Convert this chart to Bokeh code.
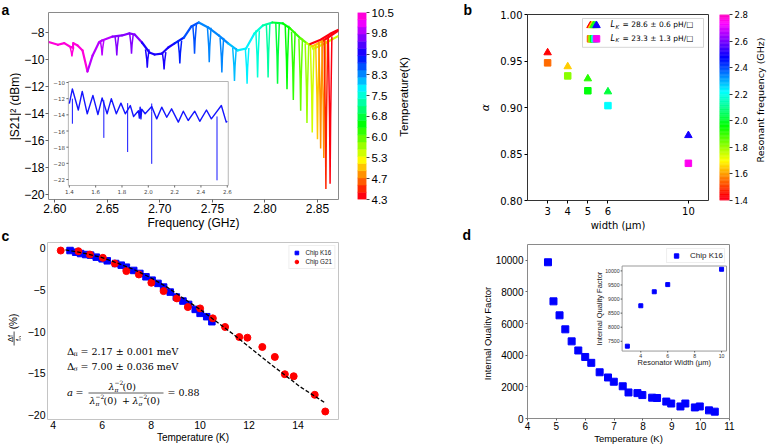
import numpy as np
from bokeh.plotting import figure
from bokeh.models import Range1d, FixedTicker, Label, Legend, LegendItem
from bokeh.layouts import row, column
from bokeh.embed import file_html
from bokeh.resources import INLINE
from bokeh.core.properties import value

SANS = "Liberation Sans"
DJV = "DejaVu Sans"
SERIF = "DejaVu Serif"
MINUS = "\u2212"

# ===================== DATA =====================
# (a) transmission spectrum: baseline points
a_base_f = [2.595, 2.603, 2.609, 2.6154, 2.6172, 2.6176, 2.6217, 2.6264, 2.6311, 2.636,
            2.642, 2.645, 2.655, 2.664, 2.671, 2.676, 2.683, 2.690, 2.695, 2.702,
            2.708, 2.714, 2.723, 2.730, 2.737, 2.746, 2.756, 2.765, 2.774, 2.782,
            2.790, 2.798, 2.807, 2.817, 2.824, 2.834, 2.840, 2.845, 2.856, 2.870]
a_base_v = [-8.72, -8.91, -8.79, -9.09, -9.12, -8.79, -8.96, -9.33, -10.89, -9.70,
            -8.74, -8.59, -8.30, -8.22, -8.07, -8.15, -8.74, -9.48, -9.63, -9.56,
            -9.11, -8.81, -8.37, -7.55, -7.26, -7.63, -8.22, -8.81, -9.33, -9.19,
            -8.07, -7.48, -7.26, -7.33, -7.70, -8.44, -8.81, -9.04, -8.59, -7.85]
# resonance dips: frequency, level at the dip's shoulders, minimum, temperature
a_dip_f = [2.6163, 2.645, 2.659, 2.673, 2.688, 2.704, 2.719, 2.733, 2.747, 2.759,
           2.771, 2.783, 2.793, 2.803, 2.812, 2.821, 2.827, 2.834, 2.840, 2.845,
           2.850, 2.853, 2.856, 2.858, 2.862]
a_dip_top = [-9.09, -8.59, -8.27, -8.10, -9.25, -9.45, -8.60, -7.45, -7.65, -8.40,
             -9.15, -9.15, -7.85, -7.35, -7.27, -7.50, -7.95, -8.44, -8.81, -9.04,
             -8.85, -8.70, -8.59, -8.50, -8.30]
a_dip_min = [-9.78, -9.70, -9.70, -9.57, -10.60, -10.74, -10.30, -9.57, -10.20, -10.96,
             -11.60, -11.80, -11.33, -11.33, -11.80, -12.20, -13.00, -13.80, -14.70, -15.40,
             -15.90, -16.60, -17.30, -19.60, -19.20]
a_dip_T = [10.4, 10.0, 9.7, 9.5, 9.2, 9.0, 8.9, 8.65, 8.45, 8.26,
           8.0, 7.74, 7.46, 7.15, 6.9, 6.64, 6.24, 6.0, 5.7, 5.37,
           5.1, 4.9, 4.76, 4.48, 4.37]
# overlapping low-temperature sweeps at the right edge
a_red_f = [2.842, 2.853, 2.862, 2.870]
a_red_v = [-8.89, -8.54, -8.10, -7.80]
a_red_T = 4.4
a_yel_f = [2.845, 2.856, 2.870]
a_yel_v = [-9.25, -8.85, -8.25]
a_yel_T = 5.4
a_xticks = [2.60, 2.65, 2.70, 2.75, 2.80, 2.85]
a_yticks = [-20, -18, -16, -14, -12, -10, -8]
a_cbar_T = [4.3, 4.7, 5.3, 6.0, 6.8, 7.5, 8.3, 9.0, 9.8, 10.5]
a_cbar_labels = ["4.3", "4.7", "5.3", "6.0", "6.8", "7.5", "8.3", "9.0", "9.8", "10.5"]

# (a) inset: wide-band spectrum
ia_f = [1.400, 1.423, 1.468, 1.498, 1.536, 1.579, 1.617, 1.649, 1.687, 1.719,
        1.757, 1.792, 1.825, 1.863, 1.888, 1.925, 1.932, 1.938, 1.944, 1.950,
        1.976, 2.026, 2.064, 2.102, 2.140, 2.177, 2.228, 2.266, 2.303, 2.353,
        2.391, 2.442, 2.479, 2.555, 2.592, 2.600]
ia_v = [-12.6, -10.8, -13.4, -11.1, -13.87, -11.6, -13.96, -11.9, -13.87, -12.0,
        -13.87, -12.55, -13.87, -12.85, -14.2, -13.5, -14.4, -13.05, -14.5, -13.3,
        -13.87, -12.97, -14.5, -13.05, -14.3, -13.26, -14.9, -13.55, -14.7, -13.55,
        -14.8, -13.4, -14.5, -12.85, -14.9, -14.8]
ia_spike_f = [1.423, 1.662, 1.843, 1.843, 2.026, 2.026, 2.522]
ia_spike_from = [-12.0, -12.2, -13.5, -13.5, -13.6, -13.6, -14.2]
ia_spike_to = [-15.1, -16.85, -18.6, -12.55, -20.06, -12.6, -22.1]
ia_xticks = [1.4, 1.6, 1.8, 2.0, 2.2, 2.4, 2.6]
ia_yticks = [-10, -12, -14, -16, -18, -20, -22]

# (b) alpha vs width
b_width = [3, 4, 5, 6, 10]
b_alpha_tri = [0.959, 0.944, 0.931, 0.917, 0.870]
b_alpha_sq = [0.948, 0.934, 0.918, 0.902, 0.840]
b_freq_tri = [1.44, 1.65, 1.92, 2.02, 2.50]
b_freq_sq = [1.55, 1.82, 1.97, 2.22, 2.75]
b_xticks = [3, 4, 5, 6, 10]
b_yticks = [0.80, 0.85, 0.90, 0.95, 1.00]
b_cbar_ticks = [1.4, 1.6, 1.8, 2.0, 2.2, 2.4, 2.6, 2.8]

# (c) frequency shift vs temperature
c_T_k16 = [4.69, 4.92, 5.12, 5.33, 5.53, 5.76, 6.00, 6.21, 6.55, 6.78, 6.99, 7.29, 7.54,
           7.79, 8.04, 8.28, 8.51, 8.78, 9.03, 9.30, 9.53, 9.80, 10.00, 10.27, 10.48]
c_v_k16 = [-0.32, -0.52, -0.68, -0.80, -0.87, -1.11, -1.31, -1.55, -1.87, -2.07, -2.31, -2.70, -3.06,
           -3.46, -3.86, -4.25, -4.69, -5.29, -5.88, -6.36, -6.76, -7.36, -7.83, -8.23, -8.83]
c_T_g21 = [4.31, 5.03, 5.50, 6.03, 6.52, 6.99, 7.50, 8.01, 8.51, 9.05, 9.50, 10.00, 10.52,
           11.02, 11.60, 11.93, 12.54, 13.05, 13.46, 13.82, 14.68, 15.11]
c_v_g21 = [-0.32, -0.40, -0.80, -1.19, -1.87, -2.78, -3.18, -4.17, -5.17, -6.04, -7.08, -7.24, -8.43,
           -9.46, -10.66, -10.74, -11.85, -13.04, -15.11, -15.35, -17.57, -19.56]
c_fit_T = [4.5, 5.2, 5.94, 6.6, 7.29, 8.0, 8.65, 9.3, 10.0, 11.36, 12.71, 14.07, 15.08]
c_fit_v = [-0.25, -0.60, -1.11, -1.80, -2.58, -3.60, -4.69, -6.00, -7.36, -10.34, -13.52, -16.58, -18.49]
c_xticks = [4, 6, 8, 10, 12, 14]
c_yticks = [-20, -15, -10, -5, 0]

# (d) internal quality factor
d_T = [4.71, 4.90, 5.11, 5.31, 5.53, 5.76, 6.00, 6.21, 6.50, 6.79, 6.99, 7.30, 7.50,
       7.81, 7.98, 8.32, 8.49, 8.81, 8.98, 9.30, 9.47, 9.80, 9.97, 10.29, 10.49]
d_Q = [9877, 7407, 6523, 5638, 4877, 4300, 3889, 3519, 2922, 2593, 2325, 2037, 1646,
       1605, 1481, 1317, 1296, 1070, 947, 761, 947, 700, 761, 514, 432]
d_w_in = [3, 4, 5, 6, 10]
d_Q_in = [7326, 8762, 9259, 9514, 10058]
d_xticks = [4, 5, 6, 7, 8, 9, 10, 11]
d_yticks = [0, 2000, 4000, 6000, 8000, 10000]
id_xticks = [4, 6, 8, 10]
id_yticks = [7500, 8000, 8500, 9000, 9500, 10000]

# ===================== COLOURS =====================
GR_P = [0.000, 0.030, 0.215, 0.400, 0.586, 0.770, 0.954, 1.000]
GR_R = [1.00, 1.00, 1.00, 0.00, 0.00, 0.00, 1.00, 1.00]
GR_G = [0.00, 0.00, 1.00, 1.00, 1.00, 0.00, 0.00, 0.00]
GR_B = [0.16, 0.00, 0.00, 0.00, 1.00, 1.00, 1.00, 0.75]


def gist_rainbow(p):
    p = float(np.clip(p, 0, 1))
    r, g, b = (np.interp(p, GR_P, c) for c in (GR_R, GR_G, GR_B))
    return "#%02x%02x%02x" % (int(round(r * 255)), int(round(g * 255)), int(round(b * 255)))


N_BANDS = 26
band_colors = [gist_rainbow((i + 0.5) / N_BANDS) for i in range(N_BANDS)]


def temp_pos(T):
    return float(np.interp(T, a_cbar_T, np.arange(len(a_cbar_T)))) / (len(a_cbar_T) - 1)


def temp_color(T):
    idx = min(int(temp_pos(T) * N_BANDS), N_BANDS - 1)
    return band_colors[idx]


def freq_color(f):
    return gist_rainbow((f - 1.4) / 1.4)


# ===================== HELPERS =====================
def make_fig(w, h, xr, yr, bl, br, bt, bb, **kw):
    p = figure(width=w, height=h, x_range=Range1d(*xr), y_range=Range1d(*yr),
               output_backend="svg", toolbar_location=None,
               min_border_left=bl, min_border_right=br, min_border_top=bt, min_border_bottom=bb, **kw)
    p.grid.visible = False
    p.background_fill_color = "white"
    p.border_fill_color = "white"
    return p


def strip(x0, x1, h):
    """Blank figure whose data coordinates equal page pixels (for titles outside the frames)."""
    s = figure(width=x1 - x0, height=h, x_range=Range1d(x0, x1), y_range=Range1d(h, 0),
               output_backend="svg", toolbar_location=None, x_axis_location=None, y_axis_location=None,
               min_border_left=0, min_border_right=0, min_border_top=0, min_border_bottom=0)
    s.grid.visible = False
    s.outline_line_color = None
    s.background_fill_color = "white"
    s.border_fill_color = "white"
    return s


def stext(s, x, y, text, size, font=SANS, angle=0.0, style="normal", align="center",
          baseline="middle"):
    s.text(x=[x], y=[y], text=[text], angle=angle, text_font=value(font),
           text_font_size=f"{size}px", text_font_style=value(style), text_align=align,
           text_baseline=baseline, text_color="black")


def style_axes(p, font, size, outline, tick_out, standoff, tick_color="black"):
    p.outline_line_color = outline
    p.outline_line_width = 1
    for ax in p.axis:
        ax.axis_line_color = None
        ax.major_tick_in = 0
        ax.major_tick_out = int(tick_out)
        ax.minor_tick_line_color = None
        ax.major_tick_line_color = tick_color
        ax.major_label_text_font = font
        ax.major_label_text_font_size = f"{size}px"
        ax.major_label_standoff = int(standoff)
        ax.major_label_text_color = "black"


def axis_title(ax, text, font, size, standoff):
    ax.axis_label = text
    ax.axis_label_text_font = font
    ax.axis_label_text_font_size = f"{size}px"
    ax.axis_label_text_font_style = "normal"
    ax.axis_label_text_color = "black"
    ax.axis_label_standoff = int(standoff)


def fmt_labels(ticks, fmt):
    return {t: (fmt % t).replace("-", MINUS) for t in ticks}


def frame_label(p, frame, px, py, text, size, font=SANS, angle=0.0, align="center",
                baseline="middle", style="normal", color="black"):
    fl, ft, fr, fb = frame
    p.add_layout(Label(x=px - fl, y=fb - py, x_units="screen", y_units="screen",
                       text=text, angle=angle, text_font=font, text_font_size=f"{size}px",
                       text_align=align, text_baseline=baseline, text_font_style=style,
                       text_color=color))


def page_to_data(frame, xr, yr):
    fl, ft, fr, fb = frame

    def conv(px, py):
        return (xr[0] + (px - fl) / (fr - fl) * (xr[1] - xr[0]),
                yr[1] - (py - ft) / (fb - ft) * (yr[1] - yr[0]))
    return conv


def ext_range(f0, f1, lo, hi):
    span = (hi - lo) / (f1 - f0)
    return Range1d(lo - f0 * span, lo + (1 - f0) * span)


def add_inset(p, name, fx, fy, xlim, ylim, fw, fh, edge):
    p.extra_x_ranges = {name: ext_range(fx[0], fx[1], *xlim)}
    p.extra_y_ranges = {name: ext_range(fy[0], fy[1], *ylim)}
    kw = dict(x_range_name=name, y_range_name=name)
    p.quad(left=[xlim[0]], right=[xlim[1]], bottom=[ylim[0]], top=[ylim[1]],
           fill_color="white", line_color=edge, line_width=1, **kw)
    xpx = (fx[1] - fx[0]) * fw / (xlim[1] - xlim[0])
    ypx = (fy[1] - fy[0]) * fh / (ylim[1] - ylim[0])
    return kw, xpx, ypx


def inset_axes(p, kw, xpx, ypx, xlim, ylim, xticks, xlabels, yticks, ylabels,
               font, size, color, ticklen=2.0, pad=1.2):
    n, m = len(xticks), len(yticks)
    p.segment(x0=xticks, y0=[ylim[0]] * n, x1=xticks, y1=[ylim[0] - ticklen / ypx] * n,
              line_color=color, line_width=0.8, **kw)
    p.segment(x0=[xlim[0] - ticklen / xpx] * m, y0=yticks, x1=[xlim[0]] * m, y1=yticks,
              line_color=color, line_width=0.8, **kw)
    p.text(x=xticks, y=[ylim[0] - (ticklen + pad) / ypx] * n, text=xlabels,
           text_align="center", text_baseline="top", text_font=value(font),
           text_font_size=f"{size}px", text_color=color, **kw)
    p.text(x=[xlim[0] - (ticklen + pad) / xpx] * m, y=yticks, text=ylabels,
           text_align="right", text_baseline="middle", text_font=value(font),
           text_font_size=f"{size}px", text_color=color, **kw)


# ===================== PANEL A =====================
FA = (46, 12, 338, 199)
A_X = (2.594, 2.870)
A_Y = (-20.37, -6.52)
pa = make_fig(336, 233, A_X, A_Y, 25, 19, 12, 34)
style_axes(pa, SANS, 12, "#8a8a8a", 3, 1, tick_color="#666666")
pa.xaxis.ticker = FixedTicker(ticks=a_xticks)
pa.xaxis.major_label_overrides = fmt_labels(a_xticks, "%.2f")
pa.yaxis.ticker = FixedTicker(ticks=a_yticks)
pa.yaxis.major_label_overrides = fmt_labels(a_yticks, "%d")
axis_title(pa.xaxis[0], "Frequency (GHz)", SANS, 12, 0)

dip_arr = np.array(a_dip_f)
seg_c = []
for i in range(len(a_base_f) - 1):
    mid = 0.5 * (a_base_f[i] + a_base_f[i + 1])
    seg_c.append(temp_color(a_dip_T[int(np.argmin(np.abs(dip_arr - mid)))]))
pa.segment(x0=a_base_f[:-1], y0=a_base_v[:-1], x1=a_base_f[1:], y1=a_base_v[1:],
           line_color=seg_c, line_width=2.2, line_cap="round")
pa.line(a_yel_f, a_yel_v, line_color=temp_color(a_yel_T), line_width=2.2)
pa.line(a_red_f, a_red_v, line_color=temp_color(a_red_T), line_width=2.2)

w = 0.0017
dxs, dys, dcs = [], [], []
for f, top, mn, T in zip(a_dip_f, a_dip_top, a_dip_min, a_dip_T):
    mid = top + 0.55 * (mn - top)
    dxs.append([f - w, f - 0.3 * w, f, f + 0.3 * w, f + w])
    dys.append([top, mid, mn, mid, top])
    dcs.append(temp_color(T))
pa.multi_line(dxs, dys, line_color=dcs, line_width=1.5)

IA_FX = ((66 - 46) / 292, (227 - 46) / 292)
IA_FY = ((199 - 185) / 187, (199 - 81) / 187)
IA_XL = (1.3925, 2.6075)
IA_YL = (-22.74, -9.876)
kw_a, ax_px, ay_px = add_inset(pa, "ia", IA_FX, IA_FY, IA_XL, IA_YL, 292, 187, "#b5b5b5")
pa.line(ia_f, ia_v, line_color="#1414ff", line_width=1.4, line_join="round", **kw_a)
pa.segment(x0=ia_spike_f, y0=ia_spike_from, x1=ia_spike_f, y1=ia_spike_to,
           line_color="#1414ff", line_width=1.0, **kw_a)
inset_axes(pa, kw_a, ax_px, ay_px, IA_XL, IA_YL,
           ia_xticks, ["%.1f" % t for t in ia_xticks],
           ia_yticks, [("%d" % t).replace("-", MINUS) for t in ia_yticks],
           DJV, 5.5, "#444444", ticklen=2.0, pad=1.5)

# colour bar a
pacb = make_fig(39, 233, (0, 1), (0, 9), 0, 28, 12, 34, x_axis_location=None, y_axis_location="right")
style_axes(pacb, SANS, 11.5, None, 3, 2, tick_color="#444444")
edges = np.linspace(0, 9, N_BANDS + 1)
pacb.quad(left=0, right=1, bottom=edges[:-1], top=edges[1:], fill_color=band_colors,
          line_color=band_colors, line_width=0.5)
pacb.yaxis.ticker = FixedTicker(ticks=list(range(len(a_cbar_labels))))
pacb.yaxis.major_label_overrides = {i: lbl for i, lbl in enumerate(a_cbar_labels)}
s_acb = strip(396, 440, 233)
stext(s_acb, 403, 105, "Temperature(K)", 11.5, angle=np.pi / 2)

# ===================== PANEL B =====================
FB = (527, 14, 708, 201)
B_X = (2, 11)
B_Y = (0.80, 1.00)
pb = make_fig(227, 233, B_X, B_Y, 35, 11, 14, 32)
style_axes(pb, DJV, 10, "#333333", 3, 2)
pb.xaxis.major_label_standoff = 3
pb.xaxis.ticker = FixedTicker(ticks=b_xticks)
pb.yaxis.ticker = FixedTicker(ticks=b_yticks)
pb.yaxis.major_label_overrides = fmt_labels(b_yticks, "%.2f")
axis_title(pb.xaxis[0], "width (μm)", DJV, 10, 2)
tri_cols = [freq_color(f) for f in b_freq_tri]
sq_cols = [freq_color(f) for f in b_freq_sq]
pb.scatter(b_width, b_alpha_tri, marker="triangle", size=7.5, fill_color=tri_cols, line_color=tri_cols)
pb.scatter(b_width, b_alpha_sq, marker="square", size=6.5, fill_color=sq_cols, line_color=sq_cols)

conv_b = page_to_data(FB, B_X, B_Y)
bx0, by0 = conv_b(582, 18)
bx1, by1 = conv_b(703, 47)
pb.quad(left=[bx0], right=[bx1], top=[by0], bottom=[by1], fill_color="white",
        line_color="#cccccc", line_width=0.8)
step = 1.5 * (B_X[1] - B_X[0]) / (FB[2] - FB[0])
cx, cy_t = conv_b(593, 25)
_, cy_s = conv_b(593, 38.5)
offs = [(k - 2) * step for k in range(len(b_width))]
pb.scatter([cx + o for o in offs], [cy_t] * len(offs), marker="triangle", size=7.5,
           fill_color=tri_cols, line_color=tri_cols)
pb.scatter([cx + o for o in offs], [cy_s] * len(offs), marker="square", size=6.5,
           fill_color=sq_cols, line_color=sq_cols)
for yy, txt in ((25, "= 28.6 ± 0.6 pH/□"), (38.5, "= 23.3 ± 1.3 pH/□")):
    frame_label(pb, FB, 610, yy, "L", 8, font=DJV, align="left", style="italic")
    frame_label(pb, FB, 615, yy + 2, "K", 5.5, font=DJV, align="left", style="italic")
    frame_label(pb, FB, 622, yy, txt, 7.5, font=DJV, align="left")

# colour bar b
pbcb = make_fig(32, 233, (0, 1), (1.4, 2.8), 0, 19, 13, 32, x_axis_location=None, y_axis_location="right")
style_axes(pbcb, DJV, 8.5, None, 3, 2, tick_color="#333333")
NB = 140
be = np.linspace(1.4, 2.8, NB + 1)
bcols = [gist_rainbow((i + 0.5) / NB) for i in range(NB)]
pbcb.quad(left=0, right=1, bottom=be[:-1], top=be[1:], fill_color=bcols, line_color=bcols, line_width=0.5)
pbcb.yaxis.ticker = FixedTicker(ticks=b_cbar_ticks)
pbcb.yaxis.major_label_overrides = fmt_labels(b_cbar_ticks, "%.1f")
s_bcb = strip(751, 767, 233)
stext(s_bcb, 760, 107, "Resonant frequency (GHz)", 9.5, font=DJV, angle=np.pi / 2)

# ===================== PANEL C =====================
FC = (47, 242, 338, 419)
C_X = (3.77, 15.65)
C_Y = (-20.52, 0.64)
pc = make_fig(419, 213, C_X, C_Y, 26, 102, 9, 27)
style_axes(pc, SANS, 10.5, "#c4c4c4", 0, 2)
pc.xaxis.major_label_standoff = 1
pc.xaxis.ticker = FixedTicker(ticks=c_xticks)
pc.yaxis.ticker = FixedTicker(ticks=c_yticks)
pc.yaxis.major_label_overrides = fmt_labels(c_yticks, "%d")
axis_title(pc.xaxis[0], "Temperature (K)", SANS, 10, 0)
r_k16 = pc.scatter(c_T_k16, c_v_k16, marker="square", size=6.5, fill_color="#0000ff", line_color="#0000ff")
r_g21 = pc.scatter(c_T_g21, c_v_g21, marker="circle", size=7, fill_color="#ff0000", line_color="#ff0000")
pc.line(c_fit_T, c_fit_v, line_color="black", line_width=1.3, line_dash="4 2")
leg_c = Legend(items=[LegendItem(label="Chip K16", renderers=[r_k16]),
                      LegendItem(label="Chip G21", renderers=[r_g21])],
               location="top_right", margin=3, padding=2, spacing=0,
               glyph_width=10, glyph_height=9, label_height=9, label_width=20,
               label_standoff=4, label_text_font=SANS, label_text_font_size="6.3px",
               label_text_color="#222222",
               border_line_color="#dddddd", border_line_width=0.8, background_fill_alpha=1.0)
pc.add_layout(leg_c)

# fit-result annotations
for yy, sub, txt in ((350.5, "π", "= 2.17 ± 0.001 meV"), (365.5, "σ", "= 7.00 ± 0.036 meV")):
    frame_label(pc, FC, 66.5, yy, "Δ", 10, font=SERIF, align="left")
    frame_label(pc, FC, 73, yy + 3, sub, 6.5, font=SERIF, align="left")
    frame_label(pc, FC, 80, yy, txt, 9.5, font=SERIF, align="left")

ya = 392
frame_label(pc, FC, 66.5, ya, "a", 10, font=SERIF, align="left", style="italic")
frame_label(pc, FC, 75, ya, "=", 9.5, font=SERIF, align="left")
frame_label(pc, FC, 167, ya, "= 0.88", 9.5, font=SERIF, align="left")


def lam(x, y, sub):
    frame_label(pc, FC, x, y, "λ", 9.5, font=SERIF, align="left", style="italic")
    frame_label(pc, FC, x + 6, y - 3.5, MINUS + "2", 6, font=SERIF, align="left")
    frame_label(pc, FC, x + 6, y + 3, sub, 6, font=SERIF, align="left", style="italic")
    frame_label(pc, FC, x + 14, y, "(0)", 9.5, font=SERIF, align="left")


lam(108, 385.5, "π")
lam(89, 399.5, "π")
frame_label(pc, FC, 121.5, 399.5, "+", 9.5, font=SERIF, align="left")
lam(132, 399.5, "σ")
conv_c = page_to_data(FC, C_X, C_Y)
fx0, fy0 = conv_c(88, 392.5)
fx1, _ = conv_c(163, 392.5)
pc.segment(x0=[fx0], y0=[fy0], x1=[fx1], y1=[fy0], line_color="#333333", line_width=0.8)

# ===================== PANEL D =====================
FD = (524, 244, 729, 421)
D_X = (4, 11)
D_Y = (0, 11000)
pd = make_fig(275, 213, D_X, D_Y, 32, 38, 11, 25)
style_axes(pd, SANS, 10, "#8a8a8a", 2, 2, tick_color="#666666")
pd.xaxis.major_label_standoff = 1
pd.xaxis.ticker = FixedTicker(ticks=d_xticks)
pd.yaxis.ticker = FixedTicker(ticks=d_yticks)
axis_title(pd.xaxis[0], "Temperature (K)", SANS, 9.5, 0)
r_d = pd.scatter(d_T, d_Q, marker="square", size=7, fill_color="#0000ff", line_color="#0000ff")
leg_d = Legend(items=[LegendItem(label="Chip K16", renderers=[r_d])],
               location="top_right", margin=4, padding=1, spacing=0,
               glyph_width=16, glyph_height=11, label_height=11, label_width=20,
               label_standoff=6, label_text_font=SANS, label_text_font_size="8px",
               label_text_color="#222222",
               border_line_color="#dddddd", border_line_width=0.8, background_fill_alpha=1.0)
pd.add_layout(leg_d)

ID_FX = ((620 - 524) / 205, (726 - 524) / 205)
ID_FY = ((422 - 353) / 178, (422 - 266) / 178)
ID_XL = (2.61, 10.37)
ID_YL = (7153, 10174)
kw_d, dx_px, dy_px = add_inset(pd, "id", ID_FX, ID_FY, ID_XL, ID_YL, 205, 177, "#999999")
pd.scatter(d_w_in, d_Q_in, marker="square", size=4, fill_color="#0000ff", line_color="#0000ff", **kw_d)
inset_axes(pd, kw_d, dx_px, dy_px, ID_XL, ID_YL,
           id_xticks, ["%d" % t for t in id_xticks],
           id_yticks, ["%d" % t for t in id_yticks],
           SANS, 5.2, "#333333", ticklen=1.5, pad=1.0)
pd.text(x=[(ID_XL[0] + ID_XL[1]) / 2], y=[ID_YL[0] - 12 / dy_px], text=["Resonator Width (μm)"],
        text_align="center", text_baseline="middle", text_font=value(SANS),
        text_font_size="7.5px", text_color="#222222", **kw_d)
pd.text(x=[ID_XL[0] - 22.5 / dx_px], y=[(ID_YL[0] + ID_YL[1]) / 2], text=["Internal Quality Factor"],
        text_align="center", text_baseline="middle", text_font=value(SANS), angle=np.pi / 2,
        text_font_size="7.5px", text_color="#222222", **kw_d)

# ===================== TITLE STRIPS =====================
s_left = strip(0, 21, 446)
stext(s_left, 1, 1, "a", 14, style="bold", align="left", baseline="top")
stext(s_left, 14.5, 106, "|S21|² (dBm)", 12, angle=np.pi / 2)
stext(s_left, 1, 227, "c", 14, style="bold", align="left", baseline="top")
stext(s_left, 12.5, 321, "(%)", 10, angle=np.pi / 2)
stext(s_left, 10, 338, "Δf", 7.5, angle=np.pi / 2)
s_left.segment(x0=[13.6], y0=[331], x1=[13.6], y1=[345], line_color="black", line_width=0.7)
stext(s_left, 17.5, 338, "f₀", 7.5, angle=np.pi / 2)

s_mid = strip(440, 492, 446)
stext(s_mid, 463, 1, "b", 14, style="bold", align="left", baseline="top")
stext(s_mid, 485, 107, "α", 11, font=DJV, style="italic", angle=np.pi / 2)
stext(s_mid, 462, 226, "d", 14, style="bold", align="left", baseline="top")
stext(s_mid, 486.5, 333, "Internal Quality Factor", 9.5, angle=np.pi / 2)

layout = row(s_left,
             column(row(pa, pacb, s_acb), pc),
             s_mid,
             column(row(pb, pbcb, s_bcb), pd))
open("out.html", "w").write(file_html(layout, INLINE))
